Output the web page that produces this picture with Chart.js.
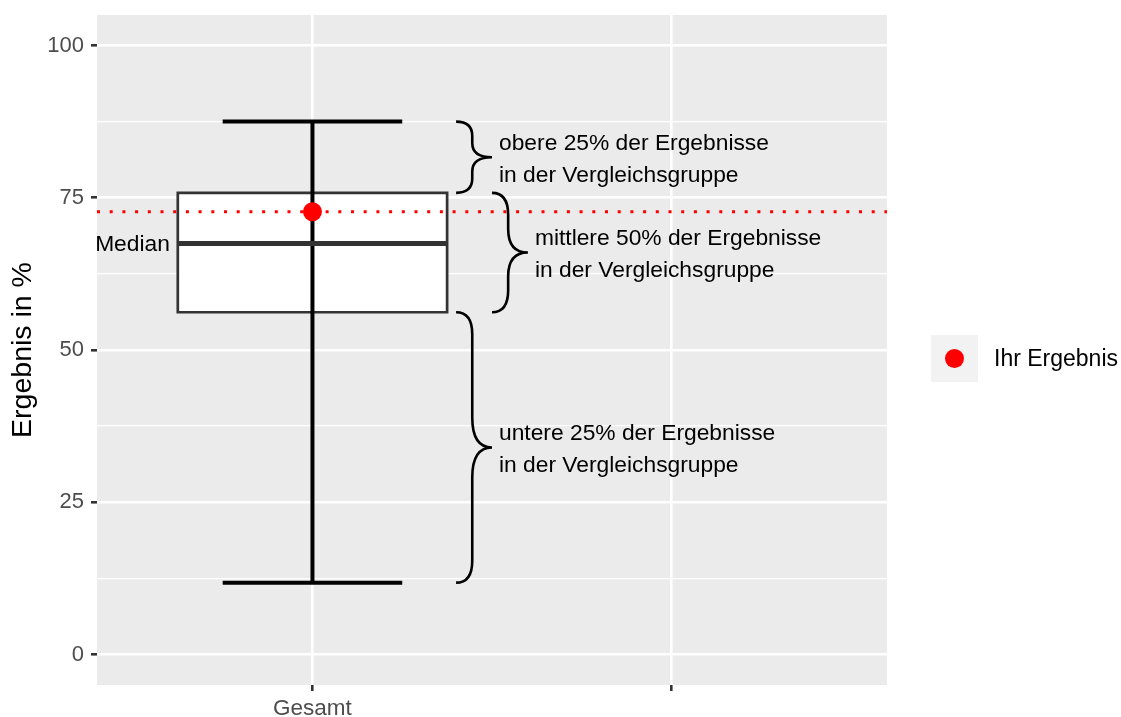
<!DOCTYPE html>
<html><head><meta charset="utf-8">
<script src="https://cdn.jsdelivr.net/npm/chart.js@4.4.1/dist/chart.umd.min.js"></script>
<style>html,body{margin:0;padding:0;background:#fff;} canvas{display:block;}</style>
</head><body>
<canvas id="c" width="1121" height="717"></canvas>
<script>
// ---- data ----
const categories = ['Gesamt', ''];
const whiskerLow = [11.8];
const boxLow = [56.2];
const medianVal = [67.5];
const boxHigh = [75.8];
const whiskerHigh = [87.5];
const yourResult = [72.7];
const yTicks = [0, 25, 50, 75, 100];
const yMinorTicks = [12.5, 37.5, 62.5, 87.5];
const braceTexts = [
  ['obere 25% der Ergebnisse', 'in der Vergleichsgruppe'],
  ['mittlere 50% der Ergebnisse', 'in der Vergleichsgruppe'],
  ['untere 25% der Ergebnisse', 'in der Vergleichsgruppe']
];
const medianLabel = 'Median';
const legendLabel = 'Ihr Ergebnis';
const yTitle = 'Ergebnis in %';

// ---- layout / style constants ----
const FONT = "'Liberation Sans', Arial, Helvetica, sans-serif";
const CX = 1;            // category position of "Gesamt"
const BOX_HALF = 0.375;
const CAP_HALF = 0.25;
const braceRanges = [
  [boxHigh[0], whiskerHigh[0]],
  [boxLow[0], boxHigh[0]],
  [whiskerLow[0], boxLow[0]]
];
const braceX = [[1.4, 1.5], [1.5, 1.6], [1.4, 1.5]];

const panelBg = {
  id: 'panelBg',
  beforeDraw(chart) {
    const {ctx, chartArea: a} = chart;
    ctx.save();
    ctx.fillStyle = '#FFFFFF';
    ctx.fillRect(0, 0, chart.width, chart.height);
    ctx.fillStyle = '#EBEBEB';
    ctx.fillRect(a.left, a.top, a.right - a.left, a.bottom - a.top);
    ctx.restore();
  }
};

function drawBrace(ctx, xEnd, xTip, yTop, yBot) {
  const xb = xEnd + (xTip - xEnd) * 0.45;
  const yMid = (yTop + yBot) / 2;
  const half = (yBot - yTop) / 2;
  const rEnd = Math.min(22, half * 0.4);
  const rMid = Math.min(30, half * 0.4);
  ctx.beginPath();
  ctx.moveTo(xEnd, yTop);
  ctx.quadraticCurveTo(xb, yTop, xb, yTop + rEnd);
  ctx.lineTo(xb, yMid - rMid);
  ctx.quadraticCurveTo(xb, yMid, xTip, yMid);
  ctx.quadraticCurveTo(xb, yMid, xb, yMid + rMid);
  ctx.lineTo(xb, yBot - rEnd);
  ctx.quadraticCurveTo(xb, yBot, xEnd, yBot);
  ctx.stroke();
}

const annotations = {
  id: 'annotations',
  afterDatasetsDraw(chart) {
    const {ctx, scales: {x, y}} = chart;
    ctx.save();
    ctx.strokeStyle = '#000000';
    ctx.lineWidth = 2.6;
    ctx.lineCap = 'butt';
    ctx.font = '22.8px ' + FONT;
    ctx.fillStyle = '#000000';
    ctx.textBaseline = 'middle';
    braceRanges.forEach((r, i) => {
      const yTop = y.getPixelForValue(r[1]);
      const yBot = y.getPixelForValue(r[0]);
      const xEnd = x.getPixelForValue(braceX[i][0]);
      const xTip = x.getPixelForValue(braceX[i][1]);
      drawBrace(ctx, xEnd, xTip, yTop, yBot);
      const yMid = (yTop + yBot) / 2;
      ctx.textAlign = 'left';
      ctx.fillText(braceTexts[i][0], xTip + 7, yMid - 13.5);
      ctx.fillText(braceTexts[i][1], xTip + 7, yMid + 18.5);
    });
    ctx.textAlign = 'right';
    ctx.fillText(medianLabel, x.getPixelForValue(0.603), y.getPixelForValue(medianVal[0]) + 1.5);
    ctx.restore();
  },
  afterDraw(chart) {
    const {ctx} = chart;
    ctx.save();
    ctx.fillStyle = '#F2F2F2';
    ctx.fillRect(931, 335, 47, 47);
    ctx.fillStyle = '#FF0000';
    ctx.beginPath();
    ctx.arc(954.5, 358.5, 9.5, 0, Math.PI * 2);
    ctx.fill();
    ctx.fillStyle = '#000000';
    ctx.font = '23px ' + FONT;
    ctx.textBaseline = 'middle';
    ctx.textAlign = 'left';
    ctx.fillText(legendLabel, 994, 359.5);
    ctx.restore();
  }
};

const lineDs = (data, extra) => Object.assign({
  data, showLine: true, pointRadius: 0, pointHoverRadius: 0, fill: false, tension: 0
}, extra);

new Chart(document.getElementById('c'), {
  type: 'scatter',
  data: {
    datasets: [
      { data: [{x: CX, y: yourResult[0]}], showLine: false, pointRadius: 9.5, pointHoverRadius: 9.5,
        pointBackgroundColor: '#FF0000', pointBorderWidth: 0, pointBorderColor: 'rgba(0,0,0,0)', order: 1 },
      lineDs([{x: 0.4, y: yourResult[0]}, {x: 2.6, y: yourResult[0]}],
        { borderColor: '#FF0000', borderWidth: 3, borderDash: [3, 9.7], order: 2 }),
      lineDs([{x: CX - BOX_HALF, y: medianVal[0]}, {x: CX + BOX_HALF, y: medianVal[0]}],
        { borderColor: '#333333', borderWidth: 5, order: 3 }),
      lineDs([{x: CX - CAP_HALF, y: whiskerHigh[0]}, {x: CX + CAP_HALF, y: whiskerHigh[0]}],
        { borderColor: '#000000', borderWidth: 4, order: 4 }),
      lineDs([{x: CX - CAP_HALF, y: whiskerLow[0]}, {x: CX + CAP_HALF, y: whiskerLow[0]}],
        { borderColor: '#000000', borderWidth: 4, order: 5 }),
      lineDs([{x: CX, y: whiskerLow[0]}, {x: CX, y: whiskerHigh[0]}],
        { borderColor: '#000000', borderWidth: 4, order: 6 }),
      lineDs([{x: CX - BOX_HALF, y: boxLow[0]}, {x: CX + BOX_HALF, y: boxLow[0]},
              {x: CX + BOX_HALF, y: boxHigh[0]}, {x: CX - BOX_HALF, y: boxHigh[0]},
              {x: CX - BOX_HALF, y: boxLow[0]}],
        { borderColor: '#333333', borderWidth: 2.7, borderJoinStyle: 'miter', borderCapStyle: 'square', order: 7 }),
      lineDs([{x: CX - BOX_HALF, y: boxHigh[0]}, {x: CX + BOX_HALF, y: boxHigh[0]}],
        { borderColor: 'rgba(0,0,0,0)', borderWidth: 1, fill: {value: boxLow[0]}, backgroundColor: '#FFFFFF', order: 8 })
    ]
  },
  options: {
    responsive: false,
    animation: false,
    events: [],
    devicePixelRatio: 1,
    layout: { padding: { left: 0, top: 15, right: 234, bottom: 0 } },
    plugins: { legend: { display: false }, tooltip: { enabled: false } },
    scales: {
      x: {
        type: 'linear', min: 0.4, max: 2.6,
        afterBuildTicks: s => { s.ticks = categories.map((c, i) => ({ value: i + 1 })); },
        ticks: {
          callback: (v, i) => categories[i],
          color: '#4D4D4D', font: { family: FONT, size: 22.5 }, padding: 4,
          autoSkip: false, maxRotation: 0
        },
        grid: { color: '#FFFFFF', lineWidth: 2.6, tickColor: '#333333', tickLength: 6, tickWidth: 2.6 },
        border: { display: false },
        afterFit: s => { s.height = 32; s.paddingLeft = 0; s.paddingRight = 0; }
      },
      y: {
        type: 'linear', min: -5, max: 105,
        afterBuildTicks: s => {
          s.ticks = [...yTicks, ...yMinorTicks].sort((a, b) => a - b).map(v => ({ value: v }));
        },
        ticks: {
          callback: v => (yTicks.includes(v) ? String(v) : ''),
          color: '#4D4D4D', font: { family: FONT, size: 22 }, padding: 7, autoSkip: false
        },
        grid: {
          color: '#FFFFFF',
          lineWidth: c => (c.tick && yTicks.includes(c.tick.value) ? 2.6 : 1.3),
          tickColor: c => (c.tick && yTicks.includes(c.tick.value) ? '#333333' : 'rgba(0,0,0,0)'),
          tickWidth: 2.6, tickLength: 6
        },
        border: { display: false },
        title: { display: true, text: yTitle, color: '#000000', font: { family: FONT, size: 28.5 }, padding: { top: 6, bottom: 0 } },
        afterFit: s => { s.width = 97; s.paddingTop = 0; s.paddingBottom = 0; }
      }
    }
  },
  plugins: [panelBg, annotations]
});
</script>
</body></html>
